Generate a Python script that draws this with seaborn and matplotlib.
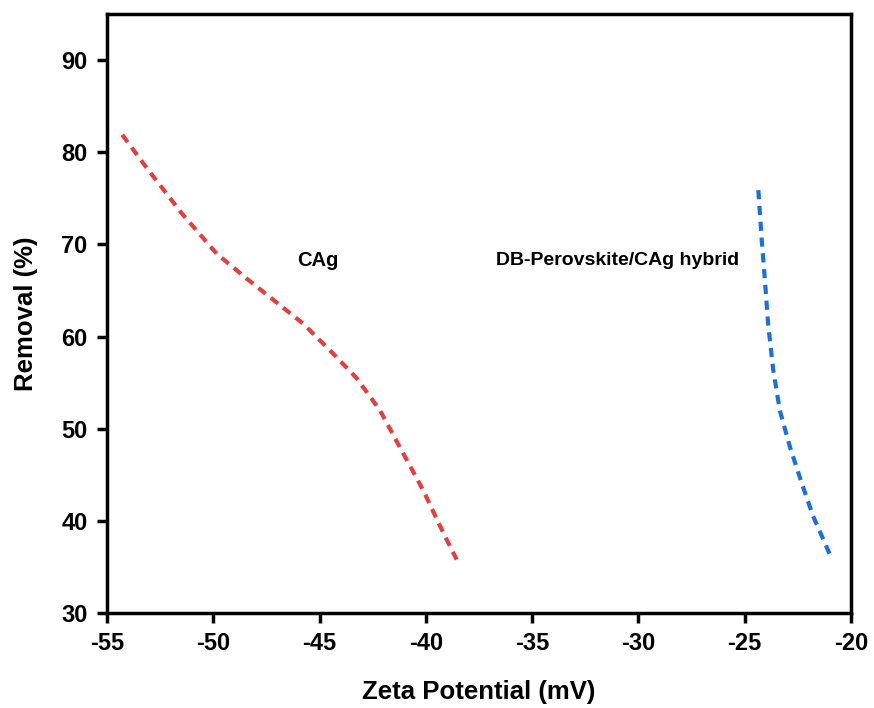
import pandas as pd
import matplotlib.pyplot as plt
import seaborn as sns

# values
cag_zeta = [-54.28, -53.13, -51.49, -49.84, -48.43, -47.18, -45.77, -44.51,
            -43.26, -42.16, -41.06, -40.12, -39.18, -38.55]
cag_removal = [81.9, 78.3, 73.4, 69.0, 66.3, 64.0, 61.4, 58.5,
               55.5, 52.0, 47.3, 43.3, 38.7, 35.8]

hybrid_zeta = [-24.36, -24.21, -24.05, -23.90, -23.66, -23.35, -22.87, -22.32,
               -21.78, -20.91]
hybrid_removal = [75.9, 70.8, 66.1, 61.4, 56.4, 52.0, 48.0, 44.1, 40.5, 35.9]

x_ticks = [-55, -50, -45, -40, -35, -30, -25, -20]
y_ticks = [30, 40, 50, 60, 70, 80, 90]

sns.set_style('ticks')
plt.rcParams['font.family'] = ['Liberation Sans', 'DejaVu Sans']
plt.rcParams['font.weight'] = 'bold'
plt.rcParams['text.color'] = 'black'
plt.rcParams['axes.labelcolor'] = 'black'
plt.rcParams['xtick.color'] = 'black'
plt.rcParams['ytick.color'] = 'black'

cag = pd.DataFrame({'zeta': cag_zeta, 'removal': cag_removal})
hyb = pd.DataFrame({'zeta': hybrid_zeta, 'removal': hybrid_removal})

fig = plt.figure(figsize=(8.74, 7.08), dpi=100)
ax = fig.add_axes([0.1224, 0.1342, 0.8513, 0.8458])

sns.lineplot(data=cag, x='zeta', y='removal', ax=ax, color='#e0403f',
             linewidth=3, linestyle=(0, (2.2, 1.6)), sort=False)
sns.lineplot(data=hyb, x='zeta', y='removal', ax=ax, color='#1f6fd6',
             linewidth=3, linestyle=(0, (2.2, 1.6)), sort=False)

ax.text(-45.1, 68.3, 'CAg', ha='center', va='center', fontsize=14.5, fontweight='bold')
ax.text(-31.0, 68.3, 'DB-Perovskite/CAg hybrid', ha='center', va='center',
        fontsize=14, fontweight='bold')

ax.set_xlim(-55, -20)
ax.set_ylim(30, 95)
ax.set_xticks(x_ticks)
ax.set_yticks(y_ticks)
ax.set_xticklabels([str(t) for t in x_ticks])
ax.set_xlabel('Zeta Potential (mV)', fontsize=18.5, fontweight='bold', labelpad=18)
ax.set_ylabel('Removal (%)', fontsize=18.5, fontweight='bold', labelpad=17)
ax.tick_params(axis='both', labelsize=17, width=2.5, length=7, direction='out', pad=7)
for lab in ax.get_xticklabels() + ax.get_yticklabels():
    lab.set_fontweight('bold')
for s in ax.spines.values():
    s.set_linewidth(2.5)
    s.set_color('black')

fig.savefig('out.png', dpi=100)
